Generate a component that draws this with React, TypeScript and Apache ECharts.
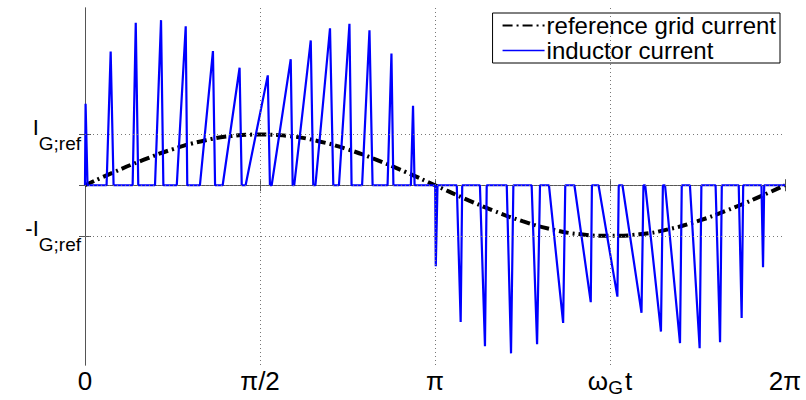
import React, { useEffect, useRef } from 'react';
import * as echarts from 'echarts';

// x axis: phase omega_G t in degrees (0 .. 360 = 0 .. 2π)
const phaseTicks = [0, 90, 180, 270, 360];
const phaseTickLabels = ['0', 'π/2', 'π', 'ω_G t', '2π'];
const phaseGrid = [90, 180, 270];

// y axis: current in units of I_G;ref
const currentTicks = [-1, 0, 1];
const currentLabelTicks = [-1, 1];
const currentGrid = [-1, 0, 1];

// reference grid current
const refPhase = [0, 15, 30, 45, 60, 75, 90, 105, 120, 135, 150, 165, 180, 195, 210, 225, 240, 255, 270, 285, 300, 315, 330, 345, 360];
const refCurrent = [0, 0.26, 0.5, 0.71, 0.87, 0.97, 1.0, 0.97, 0.87, 0.71, 0.5, 0.26, 0, -0.26, -0.5, -0.71, -0.87, -0.97, -1.0, -0.97, -0.87, -0.71, -0.5, -0.26, 0];

// inductor current pulses, positive half wave
const posStart = [0, 11.1, 24.5, 36.0, 47.2, 59.1, 70.8, 82.6, 96.0, 107.6, 118.5, 130.6, 142.5, 155.6, 167.6];
const posPeakAt = [0.3, 13.2, 26.1, 39.1, 51.8, 65.8, 79.5, 94.0, 105.8, 116.1, 126.0, 136.0, 146.3, 157.6, 168.7];
const posPeak = [1.61, 2.64, 3.21, 3.26, 3.14, 2.65, 2.32, 2.17, 2.49, 2.86, 3.10, 3.19, 3.06, 2.60, 1.57];
const posEnd = [1.3, 14.7, 27.4, 40.3, 52.6, 66.9, 80.6, 95.1, 106.8, 117.4, 127.7, 137.1, 147.9, 158.6, 169.5];

// inductor current pulses, negative half wave
const negStart = [180.1, 191.2, 203.1, 216.9, 229.7, 238.6, 251.7, 264.1, 276.4, 288.1, 298.3, 311.1, 324.3, 336.2, 347.9];
const negPeakAt = [180.4, 193.2, 205.7, 219.1, 232.5, 245.9, 260.1, 273.8, 286.2, 296.2, 306.0, 316.1, 326.6, 337.7, 348.7];
const negPeak = [-1.60, -2.70, -3.18, -3.32, -3.14, -2.72, -2.31, -2.20, -2.52, -2.89, -3.12, -3.22, -3.10, -2.62, -1.62];
const negEnd = [181.3, 194.0, 206.6, 220.3, 234.0, 247.0, 260.7, 274.5, 287.2, 297.2, 306.9, 317.0, 327.5, 338.5, 349.3];

const FONT = 'Liberation Sans, Arial, Helvetica, sans-serif';

function buildInductor(): number[][] {
  const pts: number[][] = [[0, 0]];
  const add = (s: number[], pa: number[], p: number[], e: number[]) => {
    for (let i = 0; i < s.length; i++) {
      pts.push([s[i], 0], [pa[i], p[i]], [e[i], 0]);
    }
  };
  add(posStart, posPeakAt, posPeak, posEnd);
  add(negStart, negPeakAt, negPeak, negEnd);
  pts.push([360, 0]);
  return pts;
}

function xLabel(v: number): string {
  const idx = phaseTicks.indexOf(v);
  if (idx < 0) return '';
  const t = phaseTickLabels[idx];
  if (t === 'ω_G t') return '{w|ω}{g|G}{w|t}';
  return '{w|' + t + '}';
}

function yLabel(v: number): string {
  if (v === 1) return '{i|I}{s|G;ref}';
  if (v === -1) return '{i|-I}{s|G;ref}';
  return '';
}

export default function App() {
  const ref = useRef<HTMLDivElement>(null);
  useEffect(() => {
    if (!ref.current) return;
    const chart = echarts.init(ref.current, undefined, { renderer: 'svg' });
    const axisColor = '#555';
    const refData = refPhase.map((p, i) => [p, refCurrent[i]]);
    const option: any = {
      animation: false,
      backgroundColor: '#fff',
      grid: { left: 85, right: 21, top: 8, bottom: 35, containLabel: false },
      legend: {
        data: [
          { name: 'reference grid current' },
          { name: 'inductor current', lineStyle: { width: 1.5 } },
        ],
        orient: 'vertical',
        right: 26,
        top: 13,
        backgroundColor: '#fff',
        borderColor: '#000',
        borderWidth: 1,
        borderRadius: 0,
        padding: [0, 4, 0, 9],
        itemGap: 0,
        itemWidth: 42,
        itemHeight: 25,
        itemStyle: { opacity: 0 },
        textStyle: { fontSize: 24, lineHeight: 25, fontFamily: FONT, color: '#000', padding: [0, 0, 0, -3] },
      },
      xAxis: [
        {
          type: 'value',
          min: 0,
          max: 360,
          interval: 90,
          axisLine: { show: true, lineStyle: { color: axisColor, width: 1 } },
          axisTick: { show: true, inside: true, length: 6, lineStyle: { color: axisColor } },
          splitLine: { show: false },
          axisLabel: {
            show: true,
            margin: 2,
            formatter: xLabel,
            color: '#000',
            fontFamily: FONT,
            rich: {
              w: { fontSize: 26, fontFamily: FONT, color: '#000', lineHeight: 28 },
              g: { fontSize: 19, fontFamily: FONT, color: '#000', lineHeight: 28, padding: [13, 2, 0, 0] },
            },
          },
        },
        {
          type: 'value',
          position: 'top',
          min: 0,
          max: 360,
          interval: 90,
          axisLine: { show: true, lineStyle: { color: axisColor, width: 1 } },
          axisTick: { show: true, inside: true, length: 6, lineStyle: { color: axisColor } },
          splitLine: { show: false },
          axisLabel: { show: false },
        },
      ],
      yAxis: [
        {
          type: 'value',
          min: -3.55,
          max: 3.5,
          axisLine: { show: true, lineStyle: { color: axisColor, width: 1 } },
          axisTick: { show: true, inside: true, length: 6, customValues: currentTicks, lineStyle: { color: axisColor } },
          splitLine: { show: false },
          axisLabel: {
            show: true,
            customValues: currentLabelTicks,
            margin: 4,
            formatter: yLabel,
            color: '#000',
            fontFamily: FONT,
            rich: {
              i: { fontSize: 22, fontFamily: FONT, color: '#000', verticalAlign: 'top' },
              s: { fontSize: 19, fontFamily: FONT, color: '#000', verticalAlign: 'bottom', padding: [17, 0, 0, 0] },
            },
          },
        },
        {
          type: 'value',
          position: 'right',
          min: -3.55,
          max: 3.5,
          axisLine: { show: true, lineStyle: { color: axisColor, width: 1 } },
          axisTick: { show: true, inside: true, length: 6, customValues: currentTicks, lineStyle: { color: axisColor } },
          splitLine: { show: false },
          axisLabel: { show: false },
        },
      ],
      series: [
        {
          name: 'grid',
          type: 'line',
          data: [[0, 0]],
          symbol: 'none',
          silent: true,
          z: 1,
          lineStyle: { opacity: 0 },
          markLine: {
            silent: true,
            symbol: 'none',
            label: { show: false },
            lineStyle: { color: '#777', width: 1, type: [1, 3] },
            data: [
              ...phaseGrid.map((v) => ({ xAxis: v })),
              ...currentGrid.map((v) => ({ yAxis: v })),
            ],
          },
        },
        {
          name: 'reference grid current',
          type: 'line',
          data: refData,
          smooth: true,
          symbol: 'none',
          z: 3,
          color: '#000',
          lineStyle: { color: '#000', width: 4, type: [10, 4, 2, 4] },
        },
        {
          name: 'inductor current',
          type: 'line',
          data: buildInductor(),
          symbol: 'none',
          z: 4,
          color: '#0000ff',
          lineStyle: { color: '#0000ff', width: 2.2 },
        },
      ],
    };
    chart.setOption(option);
    return () => chart.dispose();
  }, []);
  return (
    <div
      ref={ref}
      style={{ position: 'fixed', left: 0, top: 0, width: 806, height: 400, background: '#fff' }}
    />
  );
}
